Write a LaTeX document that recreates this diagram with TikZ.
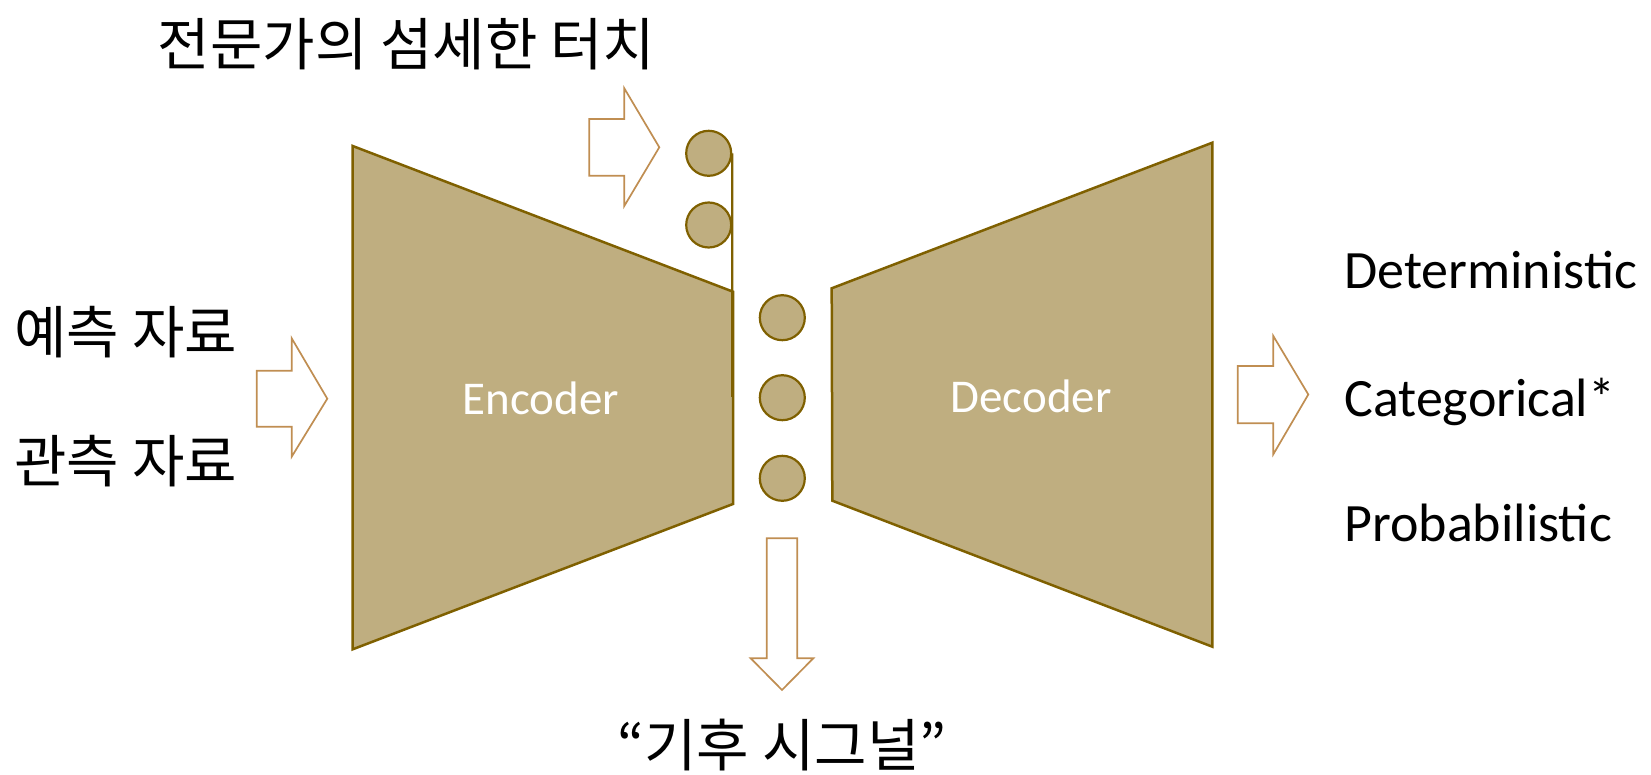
\documentclass[tikz,border=0pt]{standalone}
\usepackage{fontspec}
\setmainfont{Carlito}
\newfontfamily\kr{Noto Sans CJK KR}
\definecolor{trapfill}{RGB}{191,174,128}
\definecolor{trapdraw}{RGB}{127,96,0}
\definecolor{arrowc}{RGB}{192,142,82}
\begin{document}
\begin{tikzpicture}[x=0.5pt,y=-0.5pt,
  trap/.style={fill=trapfill,draw=trapdraw,line width=1.25pt,line join=miter},
  blockarrow/.style={draw=arrowc,fill=white,line width=0.85pt,line join=miter},
  latent/.style={circle,fill=trapfill,draw=trapdraw,line width=1.1pt,minimum size=22.5pt,inner sep=0pt},
  lbl/.style={inner sep=0pt,font=\fontsize{27}{31}\selectfont},
  krlbl/.style={inner sep=0pt,font=\kr\fontsize{28.5}{33}\selectfont},
  boxlbl/.style={inner sep=0pt,text=white,font=\fontsize{23.5}{27}\selectfont}]
\useasboundingbox (0,0) rectangle (1651,775);
% encoder / decoder
\draw[trap] (352.7,146) -- (733,291.7) -- (733,504) -- (352.7,649.3) -- cycle;
\draw[trap] (831.7,288.3) -- (1212.3,142.7) -- (1212.3,646.7) -- (832.3,500.7) -- cycle;
\node[boxlbl] (enc) at (540.7,398) {Encoder};
\node[boxlbl] (dec) at (1031,396) {Decoder};
% top circles
\node[latent] (c1) at (708.7,153.3) {};
\node[latent] (c2) at (708.7,225) {};
\coordinate (lineend) at (732.2,397);
\draw[trapdraw,line width=1.1pt] (c1.east) -- (lineend);
% middle circles
\node[latent] (m1) at (782.3,317.7) {};
\node[latent] (m2) at (782.3,397.7) {};
\node[latent] (m3) at (782.3,478.3) {};
% block arrows
\draw[blockarrow] (589.3,119) -- (624.3,119) -- (624.3,88.3) -- (659.3,147.3) -- (624.3,206) -- (624.3,175.7) -- (589.3,175.7) -- cycle;
\draw[blockarrow] (256.7,370.7) -- (291.7,370.7) -- (291.7,338.3) -- (327.3,398.7) -- (291.7,456.7) -- (291.7,426.7) -- (256.7,426.7) -- cycle;
\draw[blockarrow] (1237.7,366) -- (1273.3,366) -- (1273.3,336) -- (1308.3,394.5) -- (1273.3,454.3) -- (1273.3,423.3) -- (1237.7,423.3) -- cycle;
\draw[blockarrow] (766.7,538.3) -- (797.3,538.3) -- (797.3,658.3) -- (813.3,658.3) -- (782,690) -- (750.7,658.3) -- (766.7,658.3) -- cycle;
% labels
\node[krlbl,anchor=base] (top) at (406.5,66) {전문가의 섬세한 터치};
\node[krlbl,anchor=base west] (in1) at (14,354) {예측 자료};
\node[krlbl,anchor=base west] (in2) at (14,482) {관측 자료};
\node[krlbl,anchor=base] (bottom) at (782,766) {“기후 시그널”};
\node[lbl,anchor=base west] (o1) at (1344,288.3) {Deterministic};
\node[lbl,anchor=base west] (o2) at (1344,416.7) {Categorical*};
\node[lbl,anchor=base west] (o3) at (1344,541.7) {Probabilistic};
\end{tikzpicture}
\end{document}
